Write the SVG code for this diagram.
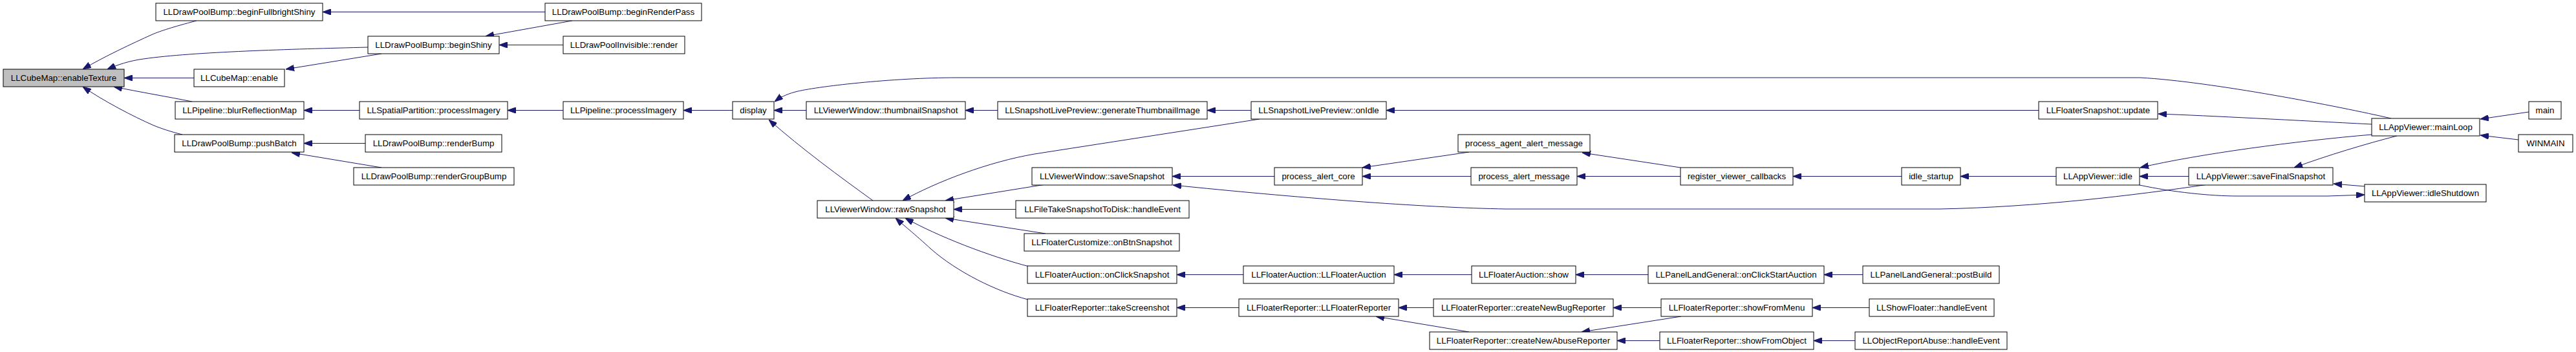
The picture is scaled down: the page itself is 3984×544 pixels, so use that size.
<svg xmlns="http://www.w3.org/2000/svg" width="3984" height="544" viewBox="0 0 3984 544">
<style>
.node rect{fill:#ffffff;stroke:#000000;stroke-width:1}
.node.root rect{fill:#bfbfbf}
.node text{font-family:"Liberation Sans",Arial,Helvetica,sans-serif;font-size:13.3px;text-anchor:middle;fill:#000000}
.edges path{fill:none;stroke:#191970;stroke-width:1;marker-end:url(#arr)}
</style>
<defs>
<marker id="arr" markerUnits="userSpaceOnUse" viewBox="0 0 13 9.4" refX="13" refY="4.7" markerWidth="13" markerHeight="9.4" orient="auto">
<path d="M0,0 L13,4.7 L0,9.4 z" fill="#191970" stroke="#191970" stroke-width="1"/>
</marker>
</defs>
<rect x="0" y="0" width="3984" height="544" fill="#ffffff"/>
<g id="edges" class="edges">
<path d="M843,18.5 L499,18.5"/>
<path d="M885,32 L751,56"/>
<path d="M871,69.5 L772,69.5"/>
<path d="M304,32 C266,42 248,48 236,53 C205,67 160,88 128,107"/>
<path d="M569,73 C450,76 300,80 222,91 C200,94 182,100 166,107"/>
<path d="M590,83 L442,107"/>
<path d="M300,120.5 L192,120.5"/>
<path d="M297,157 C262,150 215,142 176,134"/>
<path d="M282,208 C262,203 248,198 238,194 C206,180 160,156 128,134"/>
<path d="M556,170.5 L470,170.5"/>
<path d="M565,221.5 L470,221.5"/>
<path d="M590,259 L451,236"/>
<path d="M871,170.5 L785,170.5"/>
<path d="M1133,170.5 L1057,170.5"/>
<path d="M1247,170.5 L1197,170.5"/>
<path d="M1350,310 C1300,274 1240,230 1189,185"/>
<path d="M3698,183 C3620,165 3420,126 3310,120 L1480,120 C1380,120 1260,134 1230,142 C1215,146 1206,151 1198,157"/>
<path d="M1543,170.5 L1493,170.5"/>
<path d="M1935,170.5 L1867,170.5"/>
<path d="M1948,184 L1600,238 C1530,250 1450,280 1396,310"/>
<path d="M1617,285 L1462,310"/>
<path d="M1571,323.5 L1475,323.5"/>
<path d="M1617,361 L1462,337"/>
<path d="M1592,412 C1530,396 1450,365 1400,337"/>
<path d="M1590,463 C1540,450 1480,420 1440,385 C1415,362 1395,346 1385,337"/>
<path d="M1971,272.5 L1813,272.5"/>
<path d="M3415,285 C3300,302 3150,320 3000,323 L2330,323 C2200,321 2000,305 1814,286"/>
<path d="M2272,235 L2107,259"/>
<path d="M2275,272.5 L2107,272.5"/>
<path d="M2599,259 L2447,236"/>
<path d="M2599,272.5 L2439,272.5"/>
<path d="M2941,272.5 L2773,272.5"/>
<path d="M3180,272.5 L3032,272.5"/>
<path d="M3385,272.5 L3309,272.5"/>
<path d="M3668,208 C3550,218 3400,238 3310,259"/>
<path d="M3707,210 C3660,222 3600,240 3548,259"/>
<path d="M3657,288 L3609,284"/>
<path d="M3309,286 C3360,297 3420,303 3460,303 L3600,303 L3657,301"/>
<path d="M3668,192 C3550,186 3420,179 3338,176"/>
<path d="M3153,170.5 L2144,170.5"/>
<path d="M3911,173 L3836,184"/>
<path d="M3895,216 L3836,209"/>
<path d="M1923,424.5 L1820,424.5"/>
<path d="M2276,424.5 L2156,424.5"/>
<path d="M2549,424.5 L2437,424.5"/>
<path d="M2881,424.5 L2821,424.5"/>
<path d="M1916,475.5 L1820,475.5"/>
<path d="M2217,475.5 L2163,475.5"/>
<path d="M2272,513 L2128,489"/>
<path d="M2569,475.5 L2495,475.5"/>
<path d="M2600,489 L2446,513"/>
<path d="M2567,526.5 L2501,526.5"/>
<path d="M2891,475.5 L2803,475.5"/>
<path d="M2869,526.5 L2805,526.5"/>
</g>
<g id="n_enableTexture" class="node root"><rect x="5" y="107" width="187" height="27"/><text x="98.5" y="125">LLCubeMap::enableTexture</text></g>
<g id="n_beginFullbrightShiny" class="node"><rect x="241" y="5" width="258" height="27"/><text x="370" y="23">LLDrawPoolBump::beginFullbrightShiny</text></g>
<g id="n_beginShiny" class="node"><rect x="569" y="56" width="203" height="27"/><text x="670.5" y="74">LLDrawPoolBump::beginShiny</text></g>
<g id="n_cubeEnable" class="node"><rect x="300" y="107" width="140" height="27"/><text x="370" y="125">LLCubeMap::enable</text></g>
<g id="n_blurReflectionMap" class="node"><rect x="271" y="157" width="199" height="27"/><text x="370.5" y="175">LLPipeline::blurReflectionMap</text></g>
<g id="n_pushBatch" class="node"><rect x="270" y="208" width="200" height="27"/><text x="370" y="226">LLDrawPoolBump::pushBatch</text></g>
<g id="n_beginRenderPass" class="node"><rect x="843" y="5" width="242" height="27"/><text x="964" y="23">LLDrawPoolBump::beginRenderPass</text></g>
<g id="n_invisibleRender" class="node"><rect x="871" y="56" width="188" height="27"/><text x="965" y="74">LLDrawPoolInvisible::render</text></g>
<g id="n_spatialProcessImagery" class="node"><rect x="556" y="157" width="229" height="27"/><text x="670.5" y="175">LLSpatialPartition::processImagery</text></g>
<g id="n_renderBump" class="node"><rect x="565" y="208" width="211" height="27"/><text x="670.5" y="226">LLDrawPoolBump::renderBump</text></g>
<g id="n_renderGroupBump" class="node"><rect x="547" y="259" width="248" height="27"/><text x="671" y="277">LLDrawPoolBump::renderGroupBump</text></g>
<g id="n_pipelineProcessImagery" class="node"><rect x="871" y="157" width="186" height="27"/><text x="964" y="175">LLPipeline::processImagery</text></g>
<g id="n_display" class="node"><rect x="1133" y="157" width="64" height="27"/><text x="1165" y="175">display</text></g>
<g id="n_thumbnailSnapshot" class="node"><rect x="1247" y="157" width="246" height="27"/><text x="1370" y="175">LLViewerWindow::thumbnailSnapshot</text></g>
<g id="n_rawSnapshot" class="node"><rect x="1264" y="310" width="211" height="27"/><text x="1369.5" y="328">LLViewerWindow::rawSnapshot</text></g>
<g id="n_generateThumbnailImage" class="node"><rect x="1543" y="157" width="324" height="27"/><text x="1705" y="175">LLSnapshotLivePreview::generateThumbnailImage</text></g>
<g id="n_saveSnapshot" class="node"><rect x="1596" y="259" width="217" height="27"/><text x="1704.5" y="277">LLViewerWindow::saveSnapshot</text></g>
<g id="n_fileTakeSnapshot" class="node"><rect x="1571" y="310" width="268" height="27"/><text x="1705" y="328">LLFileTakeSnapshotToDisk::handleEvent</text></g>
<g id="n_customizeOnBtnSnapshot" class="node"><rect x="1584" y="361" width="240" height="27"/><text x="1704" y="379">LLFloaterCustomize::onBtnSnapshot</text></g>
<g id="n_auctionOnClickSnapshot" class="node"><rect x="1589" y="411" width="231" height="27"/><text x="1704.5" y="429">LLFloaterAuction::onClickSnapshot</text></g>
<g id="n_takeScreenshot" class="node"><rect x="1589" y="462" width="231" height="27"/><text x="1704.5" y="480">LLFloaterReporter::takeScreenshot</text></g>
<g id="n_onIdle" class="node"><rect x="1935" y="157" width="209" height="27"/><text x="2039.5" y="175">LLSnapshotLivePreview::onIdle</text></g>
<g id="n_processAlertCore" class="node"><rect x="1971" y="259" width="136" height="27"/><text x="2039" y="277">process_alert_core</text></g>
<g id="n_auctionCtor" class="node"><rect x="1923" y="411" width="233" height="27"/><text x="2039.5" y="429">LLFloaterAuction::LLFloaterAuction</text></g>
<g id="n_reporterCtor" class="node"><rect x="1916" y="462" width="247" height="27"/><text x="2039.5" y="480">LLFloaterReporter::LLFloaterReporter</text></g>
<g id="n_processAgentAlert" class="node"><rect x="2255" y="208" width="204" height="27"/><text x="2357" y="226">process_agent_alert_message</text></g>
<g id="n_processAlertMessage" class="node"><rect x="2275" y="259" width="164" height="27"/><text x="2357" y="277">process_alert_message</text></g>
<g id="n_auctionShow" class="node"><rect x="2276" y="411" width="161" height="27"/><text x="2356.5" y="429">LLFloaterAuction::show</text></g>
<g id="n_createNewBugReporter" class="node"><rect x="2217" y="462" width="278" height="27"/><text x="2356" y="480">LLFloaterReporter::createNewBugReporter</text></g>
<g id="n_createNewAbuseReporter" class="node"><rect x="2211" y="513" width="290" height="27"/><text x="2356" y="531">LLFloaterReporter::createNewAbuseReporter</text></g>
<g id="n_registerViewerCallbacks" class="node"><rect x="2599" y="259" width="174" height="27"/><text x="2686" y="277">register_viewer_callbacks</text></g>
<g id="n_onClickStartAuction" class="node"><rect x="2549" y="411" width="272" height="27"/><text x="2685" y="429">LLPanelLandGeneral::onClickStartAuction</text></g>
<g id="n_showFromMenu" class="node"><rect x="2569" y="462" width="234" height="27"/><text x="2686" y="480">LLFloaterReporter::showFromMenu</text></g>
<g id="n_showFromObject" class="node"><rect x="2567" y="513" width="238" height="27"/><text x="2686" y="531">LLFloaterReporter::showFromObject</text></g>
<g id="n_idleStartup" class="node"><rect x="2941" y="259" width="91" height="27"/><text x="2986.5" y="277">idle_startup</text></g>
<g id="n_postBuild" class="node"><rect x="2881" y="411" width="211" height="27"/><text x="2986.5" y="429">LLPanelLandGeneral::postBuild</text></g>
<g id="n_showFloaterHandleEvent" class="node"><rect x="2891" y="462" width="193" height="27"/><text x="2987.5" y="480">LLShowFloater::handleEvent</text></g>
<g id="n_objectReportAbuse" class="node"><rect x="2869" y="513" width="235" height="27"/><text x="2986.5" y="531">LLObjectReportAbuse::handleEvent</text></g>
<g id="n_floaterSnapshotUpdate" class="node"><rect x="3153" y="157" width="184" height="27"/><text x="3245" y="175">LLFloaterSnapshot::update</text></g>
<g id="n_appIdle" class="node"><rect x="3180" y="259" width="129" height="27"/><text x="3244.5" y="277">LLAppViewer::idle</text></g>
<g id="n_saveFinalSnapshot" class="node"><rect x="3385" y="259" width="223" height="27"/><text x="3496.5" y="277">LLAppViewer::saveFinalSnapshot</text></g>
<g id="n_mainLoop" class="node"><rect x="3668" y="183" width="167" height="27"/><text x="3751.5" y="201">LLAppViewer::mainLoop</text></g>
<g id="n_idleShutdown" class="node"><rect x="3657" y="285" width="188" height="27"/><text x="3751" y="303">LLAppViewer::idleShutdown</text></g>
<g id="n_main" class="node"><rect x="3911" y="157" width="50" height="27"/><text x="3936" y="175">main</text></g>
<g id="n_WINMAIN" class="node"><rect x="3895" y="208" width="84" height="27"/><text x="3937" y="226">WINMAIN</text></g>
</svg>
